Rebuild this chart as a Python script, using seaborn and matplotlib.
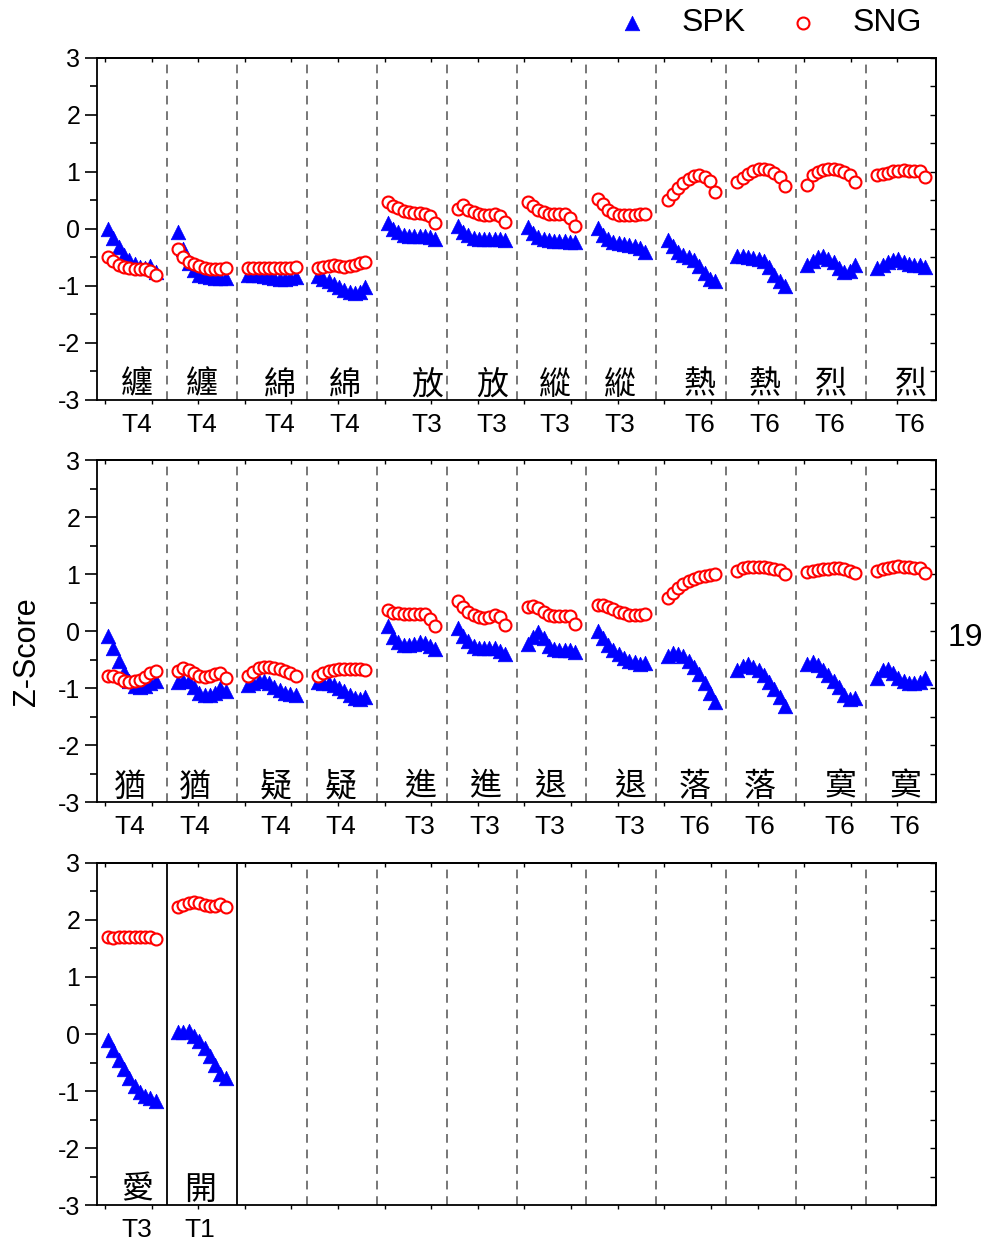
import numpy as np
import pandas as pd
import seaborn as sns
import matplotlib.pyplot as plt
from matplotlib.ticker import MultipleLocator, FixedLocator, NullFormatter

# ---- data: one list of 10 z-scores per syllable, 12 syllables per row ----
chars_p1 = ['纏', '纏', '綿', '綿', '放', '放', '縱', '縱', '熱', '熱', '烈', '烈']
tones_p1 = ['T4', 'T4', 'T4', 'T4', 'T3', 'T3', 'T3', 'T3', 'T6', 'T6', 'T6', 'T6']
spk_p1 = [
    [0.00, -0.15, -0.32, -0.45, -0.55, -0.62, -0.66, -0.68, -0.65, -0.75],
    [-0.05, -0.35, -0.60, -0.72, -0.80, -0.83, -0.85, -0.86, -0.86, -0.86],
    [-0.80, -0.80, -0.81, -0.82, -0.84, -0.86, -0.87, -0.87, -0.86, -0.84],
    [-0.83, -0.87, -0.92, -0.97, -1.02, -1.07, -1.10, -1.12, -1.11, -1.02],
    [0.10, 0.00, -0.06, -0.10, -0.12, -0.12, -0.12, -0.12, -0.14, -0.18],
    [0.05, -0.05, -0.10, -0.15, -0.17, -0.18, -0.17, -0.17, -0.18, -0.20],
    [0.03, -0.07, -0.14, -0.18, -0.20, -0.21, -0.21, -0.21, -0.22, -0.23],
    [0.02, -0.10, -0.18, -0.22, -0.25, -0.27, -0.28, -0.30, -0.34, -0.40],
    [-0.20, -0.30, -0.40, -0.46, -0.50, -0.55, -0.65, -0.77, -0.88, -0.92],
    [-0.48, -0.47, -0.49, -0.51, -0.53, -0.57, -0.67, -0.80, -0.92, -1.00],
    [-0.64, -0.57, -0.50, -0.48, -0.52, -0.58, -0.68, -0.75, -0.74, -0.64],
    [-0.69, -0.64, -0.58, -0.54, -0.52, -0.58, -0.62, -0.64, -0.63, -0.66],
]
sng_p1 = [
    [-0.50, -0.56, -0.63, -0.67, -0.69, -0.70, -0.71, -0.71, -0.74, -0.80],
    [-0.35, -0.50, -0.58, -0.62, -0.65, -0.68, -0.70, -0.71, -0.70, -0.69],
    [-0.68, -0.68, -0.68, -0.68, -0.68, -0.68, -0.68, -0.68, -0.68, -0.67],
    [-0.68, -0.66, -0.65, -0.64, -0.65, -0.66, -0.65, -0.63, -0.60, -0.58],
    [0.47, 0.41, 0.36, 0.32, 0.30, 0.28, 0.28, 0.27, 0.22, 0.11],
    [0.35, 0.42, 0.34, 0.29, 0.26, 0.25, 0.25, 0.26, 0.23, 0.13],
    [0.47, 0.41, 0.34, 0.29, 0.27, 0.27, 0.27, 0.26, 0.19, 0.06],
    [0.53, 0.44, 0.34, 0.28, 0.25, 0.24, 0.24, 0.25, 0.27, 0.26],
    [0.51, 0.62, 0.72, 0.81, 0.88, 0.93, 0.95, 0.92, 0.84, 0.64],
    [0.82, 0.89, 0.97, 1.02, 1.05, 1.06, 1.04, 0.99, 0.91, 0.75],
    [0.78, 0.94, 1.00, 1.03, 1.05, 1.06, 1.04, 1.00, 0.94, 0.83],
    [0.94, 0.97, 0.99, 1.01, 1.02, 1.03, 1.02, 1.02, 1.01, 0.92],
]

chars_p2 = ['猶', '猶', '疑', '疑', '進', '進', '退', '退', '落', '落', '寞', '寞']
tones_p2 = ['T4', 'T4', 'T4', 'T4', 'T3', 'T3', 'T3', 'T3', 'T6', 'T6', 'T6', 'T6']
spk_p2 = [
    [-0.08, -0.30, -0.52, -0.72, -0.88, -0.97, -0.99, -0.96, -0.92, -0.88],
    [-0.90, -0.87, -0.88, -0.98, -1.08, -1.12, -1.12, -1.08, -1.00, -1.05],
    [-0.95, -0.92, -0.88, -0.87, -0.92, -0.98, -1.03, -1.08, -1.11, -1.12],
    [-0.90, -0.91, -0.92, -0.95, -1.00, -1.06, -1.12, -1.17, -1.19, -1.16],
    [0.08, -0.10, -0.20, -0.24, -0.24, -0.23, -0.20, -0.21, -0.27, -0.32],
    [0.05, -0.08, -0.18, -0.26, -0.29, -0.30, -0.30, -0.30, -0.35, -0.40],
    [-0.22, -0.10, -0.02, -0.12, -0.26, -0.32, -0.34, -0.34, -0.34, -0.36],
    [0.00, -0.13, -0.24, -0.33, -0.41, -0.47, -0.52, -0.55, -0.57, -0.56],
    [-0.43, -0.38, -0.40, -0.44, -0.52, -0.63, -0.76, -0.91, -1.08, -1.25],
    [-0.68, -0.61, -0.58, -0.63, -0.69, -0.77, -0.89, -1.01, -1.16, -1.32],
    [-0.57, -0.55, -0.60, -0.68, -0.77, -0.87, -0.99, -1.12, -1.19, -1.18],
    [-0.83, -0.69, -0.66, -0.74, -0.82, -0.88, -0.91, -0.92, -0.89, -0.83],
]
sng_p2 = [
    [-0.79, -0.79, -0.83, -0.88, -0.90, -0.88, -0.85, -0.80, -0.74, -0.70],
    [-0.70, -0.65, -0.68, -0.74, -0.78, -0.80, -0.79, -0.76, -0.73, -0.83],
    [-0.78, -0.71, -0.65, -0.63, -0.63, -0.64, -0.67, -0.70, -0.73, -0.78],
    [-0.78, -0.73, -0.70, -0.68, -0.67, -0.67, -0.67, -0.67, -0.66, -0.68],
    [0.37, 0.32, 0.31, 0.30, 0.30, 0.30, 0.30, 0.30, 0.22, 0.09],
    [0.52, 0.42, 0.34, 0.29, 0.25, 0.23, 0.25, 0.28, 0.25, 0.10],
    [0.43, 0.44, 0.40, 0.34, 0.29, 0.27, 0.26, 0.26, 0.27, 0.13],
    [0.46, 0.45, 0.42, 0.38, 0.34, 0.31, 0.29, 0.29, 0.29, 0.30],
    [0.58, 0.67, 0.75, 0.82, 0.87, 0.92, 0.95, 0.97, 0.98, 1.00],
    [1.06, 1.11, 1.13, 1.13, 1.13, 1.12, 1.10, 1.08, 1.07, 1.00],
    [1.04, 1.05, 1.07, 1.08, 1.09, 1.10, 1.10, 1.08, 1.06, 1.01],
    [1.06, 1.09, 1.11, 1.13, 1.14, 1.13, 1.12, 1.10, 1.10, 1.01],
]

chars_p3 = ['愛', '開']
tones_p3 = ['T3', 'T1']
spk_p3 = [
    [-0.10, -0.28, -0.45, -0.62, -0.78, -0.92, -1.02, -1.09, -1.13, -1.18],
    [0.03, 0.04, 0.05, -0.03, -0.13, -0.25, -0.39, -0.55, -0.70, -0.77],
]
sng_p3 = [
    [1.70, 1.69, 1.70, 1.70, 1.70, 1.70, 1.70, 1.70, 1.70, 1.66],
    [2.23, 2.27, 2.30, 2.31, 2.29, 2.26, 2.25, 2.25, 2.28, 2.22],
]

# ---- layout (label offsets inside each segment) ----
offs_p1 = [0.57, 0.50, 0.62, 0.55, 0.72, 0.65, 0.55, 0.48, 0.62, 0.55, 0.48, 0.63]
offs_p2 = [0.47, 0.40, 0.55, 0.48, 0.62, 0.55, 0.48, 0.62, 0.55, 0.48, 0.63, 0.56]
offs_p3 = [0.57, 0.47]

sns.set_style('ticks')
plt.rcParams['font.family'] = ['Liberation Sans', 'Noto Sans CJK TC', 'DejaVu Sans']
plt.rcParams['axes.unicode_minus'] = False
plt.rcParams['axes.edgecolor'] = 'black'
plt.rcParams['axes.linewidth'] = 1.3
plt.rcParams['text.color'] = 'black'
plt.rcParams['xtick.color'] = 'black'
plt.rcParams['ytick.color'] = 'black'
plt.rcParams['xtick.labelcolor'] = 'black'
plt.rcParams['ytick.labelcolor'] = 'black'

fig = plt.figure(figsize=(9.91, 12.41), dpi=100)
bottoms = [0.6777, 0.3537, 0.0290]
axes = [fig.add_axes([0.0979, b, 0.8466, 0.2756]) for b in bottoms]

frames = np.linspace(0.16, 0.84, 10)
xt = 0.114 + np.arange(18) * 2 / 3

panels = [
    (spk_p1, sng_p1, chars_p1, tones_p1, offs_p1, 0),
    (spk_p2, sng_p2, chars_p2, tones_p2, offs_p2, 0),
    (spk_p3, sng_p3, chars_p3, tones_p3, offs_p3, 2),
]

for ax, (spk, sng, chars, tones, offs, n_solid) in zip(axes, panels):
    rows = []
    for i in range(len(spk)):
        for j in range(10):
            rows.append({'x': i + frames[j], 'z': spk[i][j], 'series': 'SPK'})
            rows.append({'x': i + frames[j], 'z': sng[i][j], 'series': 'SNG'})
    df = pd.DataFrame(rows)

    # segment dividers
    for d in range(1, 12):
        if d <= n_solid:
            ax.axvline(d, color='black', lw=1.3, zorder=1)
        else:
            ax.axvline(d, color='#777777', lw=1.4, ls=(0, (4.5, 3.5)), zorder=1)

    sns.scatterplot(data=df[df['series'] == 'SPK'], x='x', y='z', marker='^', s=110,
                    color='blue', edgecolor='blue', linewidth=0.5, ax=ax,
                    label='SPK', legend=False, zorder=2)
    sns.scatterplot(data=df[df['series'] == 'SNG'], x='x', y='z', marker='o', s=74,
                    facecolor='white', edgecolor='red', linewidth=1.5, ax=ax,
                    label='SNG', legend=False, zorder=3)

    for i, (c, t, o) in enumerate(zip(chars, tones, offs)):
        ax.text(i + o, 0.045, c, transform=ax.get_xaxis_transform(), ha='center',
                va='center', fontsize=23, family=['Noto Sans CJK TC'])
        ax.text(i + o, -0.072, t, transform=ax.get_xaxis_transform(), ha='center',
                va='center', fontsize=19)

    ax.set_xlim(0, 12)
    ax.set_ylim(-3, 3)
    ax.set_xlabel('')
    ax.set_ylabel('')
    ax.xaxis.set_major_locator(FixedLocator(xt))
    ax.xaxis.set_major_formatter(NullFormatter())
    ax.tick_params(axis='x', direction='out', length=3, width=1)
    ax.yaxis.set_major_locator(MultipleLocator(1))
    ax.yaxis.set_minor_locator(MultipleLocator(0.5))
    ax.tick_params(axis='y', which='major', direction='out', length=9, width=1.2,
                   labelsize=18, pad=3)
    ax.tick_params(axis='y', which='minor', direction='out', length=5, width=1.2)

    sec_y = ax.secondary_yaxis('right')
    sec_y.set_yticks(np.arange(-3, 3.01, 0.5))
    sec_y.tick_params(direction='in', length=4, width=1, labelright=False)
    sec_x = ax.secondary_xaxis('top')
    sec_x.set_xticks(xt)
    sec_x.tick_params(direction='in', length=3, width=1, labeltop=False)

handles, labels = axes[0].get_legend_handles_labels()
fig.legend(handles, labels, loc='center right', bbox_to_anchor=(922 / 991, 1 - 23 / 1241),
           ncol=2, frameon=False, fontsize=23, handletextpad=0.55, columnspacing=0.8,
           borderpad=0, borderaxespad=0)

fig.text(27 / 991, 1 - 652 / 1241, 'Z-Score', rotation=90, fontsize=22, ha='center', va='center')
fig.text(965 / 991, 1 - 638 / 1241, '19', fontsize=23, ha='center', va='center')

fig.savefig('out.png', dpi=100)
